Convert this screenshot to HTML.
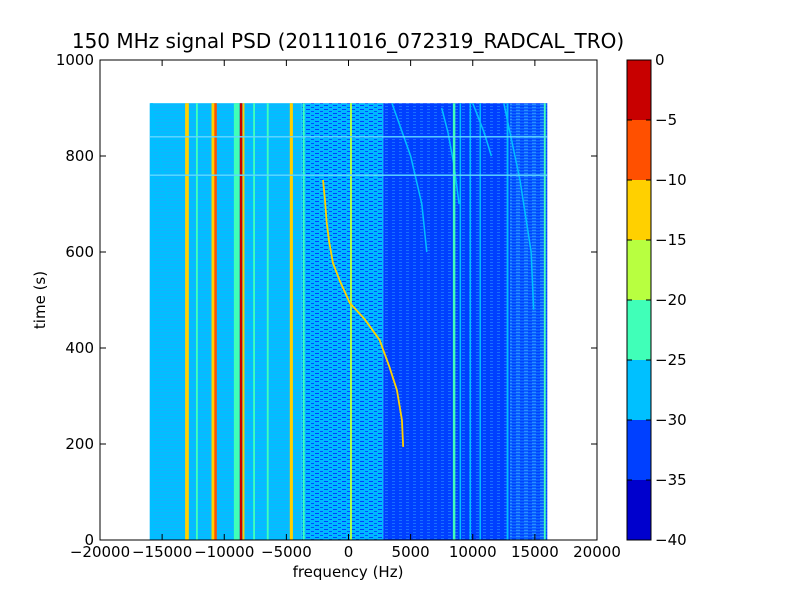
<!DOCTYPE html>
<html><head><meta charset="utf-8"><style>
body{margin:0;background:#fff}
svg text{font-family:"DejaVu Sans","Liberation Sans",sans-serif;fill:#000}
</style></head><body>
<svg id="c" width="800" height="600">
<defs>
<pattern id="stripesA" width="6" height="3" patternUnits="userSpaceOnUse"><rect width="6" height="3" fill="#00c0ff"/><rect y="2" width="6" height="1" fill="#20a8ff" opacity="0.6"/></pattern>
<pattern id="stripesB" width="9" height="4" patternUnits="userSpaceOnUse"><rect width="9" height="4" fill="#00b8ff"/><rect y="1" width="4" height="1" fill="#0040ff"/><rect x="5" y="3" width="3" height="1" fill="#0050ff"/></pattern>
<pattern id="stripesC" width="7" height="3" patternUnits="userSpaceOnUse"><rect width="7" height="3" fill="#0040ff"/><rect y="1" width="3" height="1" fill="#1a70ff"/></pattern>
<pattern id="stripesD" width="8" height="3" patternUnits="userSpaceOnUse"><rect width="8" height="3" fill="#0a60ff"/><rect y="1" width="4" height="1" fill="#0040ff"/><rect x="4" y="2" width="4" height="1" fill="#2a90ff"/></pattern>
</defs>
<text x="348" y="48" font-size="20" text-anchor="middle">150 MHz signal PSD (20111016_072319_RADCAL_TRO)</text>
<g id="plot"></g>
<rect x="100" y="60" width="497" height="480" fill="none" stroke="#000"/>
<g id="axes"></g>
<text x="348" y="577" font-size="15" text-anchor="middle">frequency (Hz)</text>
<text x="45" y="300" font-size="15" text-anchor="middle" transform="rotate(-90 45 300)">time (s)</text>
<g id="cbar"></g>
</svg>
<script>
const NS="http://www.w3.org/2000/svg";
const xTicks=[-20000,-15000,-10000,-5000,0,5000,10000,15000,20000];
const yTicks=[0,200,400,600,800,1000];
const levels=[-40,-35,-30,-25,-20,-15,-10,-5,0];
const levelColors=["#0000cd","#0040ff","#00c0ff","#40ffb8","#b8ff40","#ffd000","#ff5000","#c80000"];
const regionFreqs=[-16000,-3800,2800,13000,16000];
const regionFills=["url(#stripesA)","url(#stripesB)","url(#stripesC)","url(#stripesD)"];
const tMax=910;
const lineFreqs=[-15800,-13000,-12200,-10900,-10700,-9000,-8650,-8450,-7600,-6500,-4600,-3600,200,8500,9000,9800,10600,12800,15800];
const lineLevels=[-27,-13,-22,-13,-8,-22,-3,-13,-22,-23,-13,-22,-20,-22,-27,-27,-27,-27,-24];
const lineWidthsHz=[150,300,150,250,200,450,200,150,150,150,250,150,150,200,120,120,120,150,150];
const curveT=[194,250,312,360,417,460,494,540,577,620,660,710,750];
const curveF=[4400,4300,3900,3300,2500,1300,100,-700,-1250,-1550,-1750,-1900,-2050];
const hLineT=[760,840];
const faintT=[[600,700,800,910],[480,600,750,910],[800,850,910],[700,800,910],[900,850,780,700]];
const faintF=[[6300,5900,5000,3500],[14900,14700,13800,12500],[11500,10900,10000],[-14500,-15200,-15900],[7500,8000,8500,8900]];
const x=f=>100+(f+20000)/40000*497;
const y=t=>540-t/1000*480;
function col(v){let i=Math.floor((v+40)/5);return levelColors[Math.max(0,Math.min(7,i))];}
const plot=document.getElementById('plot');
function mk(tag,at,parent){const e=document.createElementNS(NS,tag);for(const k in at)e.setAttribute(k,at[k]);(parent||plot).appendChild(e);return e;}
for(let i=0;i<regionFills.length;i++){
 const r=mk('rect',{x:x(regionFreqs[i]),y:y(tMax),width:x(regionFreqs[i+1])-x(regionFreqs[i]),height:y(0)-y(tMax),fill:regionFills[i]});
 
 
}
for(let i=0;i<faintT.length;i++){
 const pts=faintT[i].map((t,j)=>x(faintF[i][j])+','+y(t)).join(' ');
 const p=mk('polyline',{points:pts,fill:'none',stroke:'#00c0ff','stroke-width':1.5});
 
 
}
for(let i=0;i<lineFreqs.length;i++){
 const w=Math.max(1.2,lineWidthsHz[i]*497/40000);
 const r=mk('rect',{x:x(lineFreqs[i])-w/2,y:y(tMax),width:w,height:y(0)-y(tMax),fill:col(lineLevels[i])});
 
 
}
for(let i=0;i<hLineT.length;i++){
 const r=mk('rect',{x:x(-16000),y:y(hLineT[i])-0.7,width:x(16000)-x(-16000),height:1.4,fill:'#60d8ff'});
 
 
}
const cp=curveT.map((t,j)=>x(curveF[j])+','+y(t)).join(' ');
const cv=mk('polyline',{points:cp,fill:'none',stroke:'#ffd000','stroke-width':1.8,'stroke-linejoin':'round'});


const ax=document.getElementById('axes');
xTicks.forEach(v=>{
 mk('line',{x1:x(v),x2:x(v),y1:540,y2:534,stroke:'#000'},ax);
 mk('line',{x1:x(v),x2:x(v),y1:60,y2:66,stroke:'#000'},ax);
 const t=mk('text',{x:x(v),y:557,'font-size':15,'text-anchor':'middle'},ax);t.textContent=v<0?'\u2212'+(-v):v;
 
 
});
yTicks.forEach(v=>{
 mk('line',{x1:100,x2:106,y1:y(v),y2:y(v),stroke:'#000'},ax);
 mk('line',{x1:597,x2:591,y1:y(v),y2:y(v),stroke:'#000'},ax);
 const t=mk('text',{x:94,y:y(v)+5,'font-size':15,'text-anchor':'end'},ax);t.textContent=v;
 
 
});
const cb=document.getElementById('cbar');
const cy=v=>540-(v+40)/40*480;
for(let i=0;i<levelColors.length;i++){
 const r=mk('rect',{x:627,y:cy(levels[i+1]),width:24,height:cy(levels[i])-cy(levels[i+1]),fill:levelColors[i]},cb);
 
 
}
mk('rect',{x:627,y:60,width:24,height:480,fill:'none',stroke:'#000'},cb);
levels.forEach(v=>{
 mk('line',{x1:651,x2:646,y1:cy(v),y2:cy(v),stroke:'#000'},cb);
 mk('line',{x1:627,x2:632,y1:cy(v),y2:cy(v),stroke:'#000'},cb);
 const t=mk('text',{x:655,y:cy(v)+5,'font-size':15},cb);t.textContent=v<0?'\u2212'+(-v):v;
 
 
});
</script>
</body></html>
